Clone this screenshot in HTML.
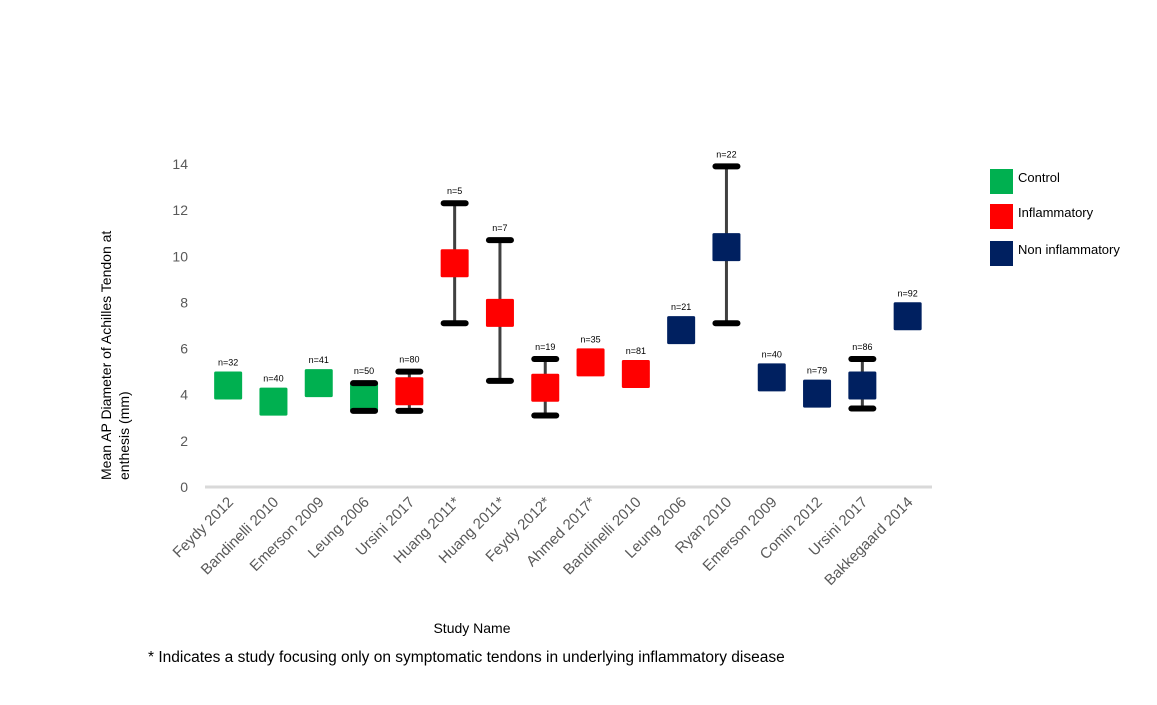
<!DOCTYPE html>
<html><head><meta charset="utf-8"><style>
body{margin:0;background:#fff;}
svg{display:block;font-family:"Liberation Sans",sans-serif;}
</style></head><body>
<svg id="chart" width="1157" height="705" viewBox="0 0 1157 705">
<g id="yaxis"></g>
<line x1="205" y1="487" x2="932" y2="487" stroke="#d9d9d9" stroke-width="3"/>
<g id="marks"></g>
<g id="xlabels"></g>
<text transform="translate(111,480) rotate(-90)" font-size="14" fill="#000"><tspan x="0" y="0">Mean AP Diameter of Achilles Tendon at</tspan><tspan x="0" y="18">enthesis (mm)</tspan></text>
<text x="472" y="633" font-size="14" text-anchor="middle" fill="#000">Study Name</text>
<text x="148" y="662" font-size="15.5" fill="#000">* Indicates a study focusing only on symptomatic tendons in underlying inflammatory disease</text>
<g>
<g><rect x="990" y="169" width="23" height="25" fill="#00b050"/><text x="1018" y="182" font-size="13">Control</text></g>
<g><rect x="990" y="204" width="23" height="25" fill="#ff0000"/><text x="1018" y="217" font-size="13">Inflammatory</text></g>
<g><rect x="990" y="241" width="23" height="25" fill="#002060"/><text x="1018" y="254" font-size="13">Non inflammatory</text></g>
</g>
</svg>
<script>
const categories=["Feydy 2012","Bandinelli 2010","Emerson 2009","Leung 2006","Ursini 2017","Huang 2011*","Huang 2011*","Feydy 2012*","Ahmed 2017*","Bandinelli 2010","Leung 2006","Ryan 2010","Emerson 2009","Comin 2012","Ursini 2017","Bakkegaard 2014"];
const groups=["control","control","control","control","inflammatory","inflammatory","inflammatory","inflammatory","inflammatory","inflammatory","non","non","non","non","non","non"];
const means=[4.4,3.7,4.5,3.9,4.15,9.7,7.55,4.3,5.4,4.9,6.8,10.4,4.75,4.05,4.4,7.4];
const errHigh=[null,null,null,4.5,5.0,12.3,10.7,5.55,null,null,null,13.9,null,null,5.55,null];
const errLow=[null,null,null,3.3,3.3,7.1,4.6,3.1,null,null,null,7.1,null,null,3.4,null];
const nLabels=["n=32","n=40","n=41","n=50","n=80","n=5","n=7","n=19","n=35","n=81","n=21","n=22","n=40","n=79","n=86","n=92"];
const yTicks=[0,2,4,6,8,10,12,14];
const colors={control:"#00b050",inflammatory:"#ff0000",non:"#002060"};
const NS="http://www.w3.org/2000/svg";
const x0=205.5,step=45.3;
function xs(i){return x0+step*(i+0.5);}
function ys(v){return 487-v*23.07;}
function mk(tag,attrs,parent){const e=document.createElementNS(NS,tag);for(const k in attrs)e.setAttribute(k,attrs[k]);parent.appendChild(e);return e;}
const ya=document.getElementById('yaxis');
yTicks.forEach(t=>{const e=mk('text',{x:188,y:ys(t)+5,'font-size':14,fill:'#595959','text-anchor':'end'},ya);e.textContent=t;

});
const g=document.getElementById('marks');
categories.forEach((c,i)=>{
 const cx=xs(i);
 if(errHigh[i]!==null){
  const l=mk('line',{x1:cx,x2:cx,y1:ys(errHigh[i]),y2:ys(errLow[i]),stroke:'#404040','stroke-width':3},g);
  
  
 }
 const r=mk('rect',{x:cx-14,y:ys(means[i])-14,width:28,height:28,fill:colors[groups[i]],rx:1.5},g);
 
 
 let top=ys(means[i])-14;
 if(errHigh[i]!==null){
  [errHigh[i],errLow[i]].forEach(v=>{const cp=mk('rect',{x:cx-14,y:ys(v)-3,width:28,height:6,rx:3,fill:'#000'},g);
  
  });
  top=Math.min(top,ys(errHigh[i])-3);
 }
 const t=mk('text',{x:cx,y:top-6,'font-size':9,'text-anchor':'middle',fill:'#000'},g);
 t.textContent=nLabels[i];
 
 
});
const xl=document.getElementById('xlabels');
categories.forEach((c,i)=>{
 const cx=xs(i)+6;
 const t=mk('text',{transform:`translate(${cx},503) rotate(-45)`,'font-size':15,fill:'#595959','text-anchor':'end'},xl);
 t.textContent=c;
 
 
});
</script>
</body></html>
